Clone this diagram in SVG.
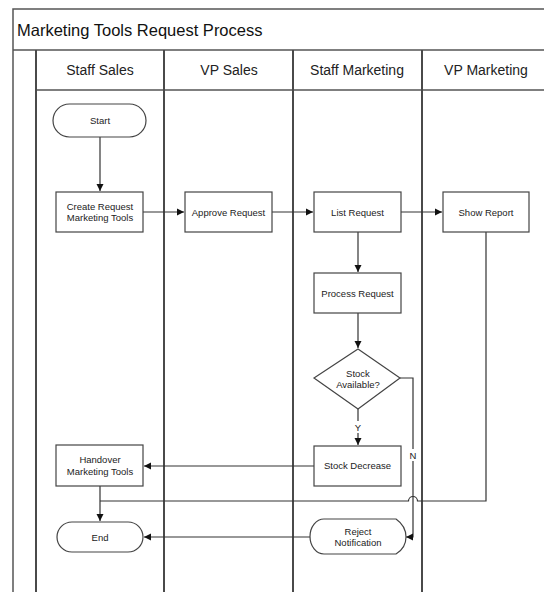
<svg xmlns="http://www.w3.org/2000/svg" width="544" height="592" viewBox="0 0 544 592">
<style>
.frame{fill:none;stroke:#555;stroke-width:1.5}
.lane{fill:none;stroke:#4a4a4a;stroke-width:2}
.node{fill:#fff;stroke:#444;stroke-width:1.2}
.conn{fill:none;stroke:#333;stroke-width:1.2}
.lbl{font-family:"Liberation Sans",Arial,sans-serif;font-size:9.5px;fill:#222;text-anchor:middle}
.hdr{font-family:"Liberation Sans",Arial,sans-serif;font-size:14px;fill:#222;text-anchor:middle}
.ttl{font-family:"Liberation Sans",Arial,sans-serif;font-size:16.5px;fill:#111}
</style>
<defs>
<marker id="arr" markerUnits="userSpaceOnUse" markerWidth="8" markerHeight="8" refX="7" refY="4" orient="auto">
<path d="M0,0.5 L7,4 L0,7.5 z" fill="#111"/>
</marker>
</defs>
<rect width="544" height="592" fill="#fff"/>
<g id="pool">
<path class="frame" d="M544,9 H13 V592 M13,50 H544 M36,90 H544"/>
<path class="lane" d="M36,50 V592 M164,50 V592 M293,50 V592 M422,50 V592"/>
<text class="ttl" x="17" y="36">Marketing Tools Request Process</text>
<text class="hdr" x="100" y="75">Staff Sales</text>
<text class="hdr" x="229" y="75">VP Sales</text>
<text class="hdr" x="357" y="75">Staff Marketing</text>
<text class="hdr" x="486" y="75">VP Marketing</text>
</g>
<g id="connectors">
<path class="conn" d="M100,137 V191" marker-end="url(#arr)"/>
<path class="conn" d="M143,212 H184" marker-end="url(#arr)"/>
<path class="conn" d="M272,212 H313" marker-end="url(#arr)"/>
<path class="conn" d="M401,212 H442" marker-end="url(#arr)"/>
<path class="conn" d="M358,232 V272" marker-end="url(#arr)"/>
<path class="conn" d="M358,313 V348" marker-end="url(#arr)"/>
<path class="conn" d="M358,409 V421"/>
<path class="conn" d="M358,433 V445" marker-end="url(#arr)"/>
<text class="lbl" x="358" y="431">Y</text>
<path class="conn" d="M400,378 H413 V449"/>
<path class="conn" d="M413,461 V537 H406" marker-end="url(#arr)"/>
<text class="lbl" x="413" y="459">N</text>
<path class="conn" d="M314,466 H144" marker-end="url(#arr)"/>
<path class="conn" d="M486,232 V501 H417.5 A4.5 4.5 0 0 0 408.5,501 H100"/>
<path class="conn" d="M100,486 V521" marker-end="url(#arr)"/>
<path class="conn" d="M310,537 H144" marker-end="url(#arr)"/>
</g>
<g id="start">
<rect class="node" x="53" y="104" width="93" height="33" rx="16.5"/>
<text class="lbl" x="100" y="123.5">Start</text>
</g>
<g id="create-request">
<rect class="node" x="56" y="192" width="87" height="40"/>
<text class="lbl" x="100" y="209.5">Create Request</text>
<text class="lbl" x="100" y="220.5">Marketing Tools</text>
</g>
<g id="approve-request">
<rect class="node" x="185" y="192" width="87" height="40"/>
<text class="lbl" x="228.5" y="215.5">Approve Request</text>
</g>
<g id="list-request">
<rect class="node" x="314" y="192" width="87" height="40"/>
<text class="lbl" x="357.5" y="215.5">List Request</text>
</g>
<g id="show-report">
<rect class="node" x="443" y="192" width="86" height="40"/>
<text class="lbl" x="486" y="215.5">Show Report</text>
</g>
<g id="process-request">
<rect class="node" x="314" y="273" width="87" height="40"/>
<text class="lbl" x="357.5" y="296.5">Process Request</text>
</g>
<g id="stock-available">
<path class="node" d="M358,349 L400,378 L358,409 L314,378 Z"/>
<text class="lbl" x="358" y="377">Stock</text>
<text class="lbl" x="358" y="388">Available?</text>
</g>
<g id="stock-decrease">
<rect class="node" x="314" y="446" width="87" height="40"/>
<text class="lbl" x="357.5" y="469">Stock Decrease</text>
</g>
<g id="handover">
<rect class="node" x="56" y="445" width="87" height="41"/>
<text class="lbl" x="100" y="463">Handover</text>
<text class="lbl" x="100" y="474.5">Marketing Tools</text>
</g>
<g id="end">
<rect class="node" x="57" y="522" width="86" height="30" rx="15"/>
<text class="lbl" x="100" y="540.5">End</text>
</g>
<g id="reject-notification">
<path class="node" d="M324,519 H396 Q406,526 406,537 Q406,548 396,554 H324 A14 17.5 0 0 1 324,519 Z"/>
<text class="lbl" x="358" y="535">Reject</text>
<text class="lbl" x="358" y="546">Notification</text>
</g>
</svg>
